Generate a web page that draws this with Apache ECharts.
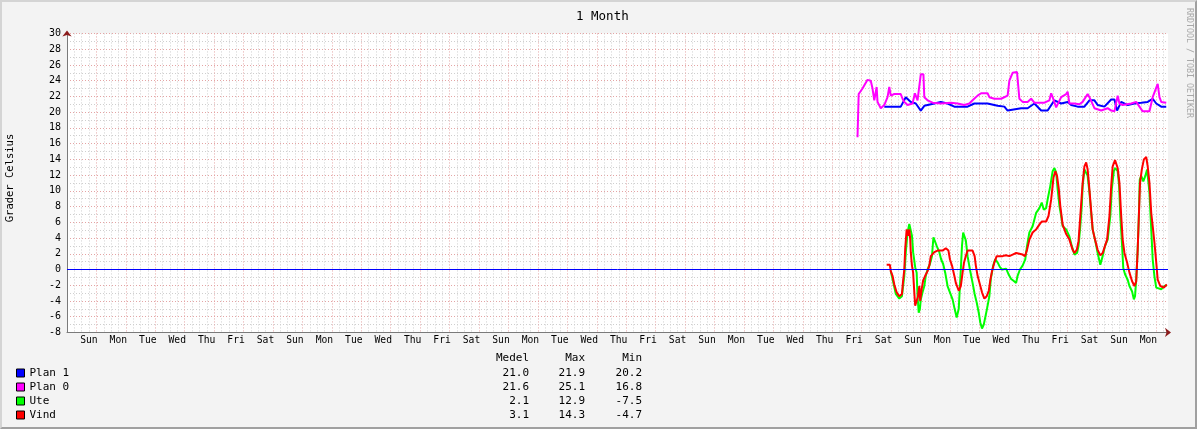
<!DOCTYPE html>
<html>
<head>
<meta charset="utf-8">
<title>1 Month</title>
<script src="https://cdn.jsdelivr.net/npm/echarts@6/dist/echarts.min.js"></script>
<style>
html, body { margin: 0; padding: 0; background: #f3f3f3; }
#wrap { position: relative; width: 1197px; height: 429px; }
#main { width: 1197px; height: 429px; }
#frame { position: absolute; left: 0; top: 0; width: 1197px; height: 429px; box-sizing: border-box;
         border: 2px solid; border-color: #d4d4d4 #a0a0a0 #a0a0a0 #d4d4d4; pointer-events: none; }
</style>
</head>
<body>
<div id="wrap"><div id="main"></div><div id="frame"></div></div>
<script>
var FONT = '"DejaVu Sans Mono", monospace';

// x in days from the left edge of the graph, y in degrees
var dayLabels = ['Sun','Mon','Tue','Wed','Thu','Fri','Sat',
                 'Sun','Mon','Tue','Wed','Thu','Fri','Sat',
                 'Sun','Mon','Tue','Wed','Thu','Fri','Sat',
                 'Sun','Mon','Tue','Wed','Thu','Fri','Sat',
                 'Sun','Mon','Tue','Wed','Thu','Fri','Sat',
                 'Sun','Mon'];
var xSpan = 37.41;
var yMin = -8, yMax = 30, yStep = 2;
var hrule = 0;

var names  = ['Plan 1', 'Plan 0', 'Ute', 'Vind'];
var colors = ['#0000ff', '#ff00ff', '#00ff00', '#ff0000'];
var medel  = ['21.0', '21.6', '2.1', '3.1'];
var maxv   = ['21.9', '25.1', '12.9', '14.3'];
var minv   = ['20.2', '16.8', '-7.5', '-4.7'];

var plan1 = [[27.77,20.7],[28.33,20.7],[28.50,21.9],[28.67,21.3],[28.84,21.1],[29.01,20.2],[29.13,20.8],
  [29.47,21.1],[29.69,21.3],[29.92,21.1],[30.15,20.7],[30.60,20.7],[30.83,21.1],[31.28,21.1],[31.62,20.8],
  [31.85,20.7],[31.96,20.2],[32.42,20.5],[32.64,20.5],[32.87,21.1],[33.10,20.2],[33.32,20.2],[33.55,21.5],
  [33.78,21.1],[34.00,21.3],[34.12,20.9],[34.34,20.7],[34.57,20.7],[34.74,21.5],[34.91,21.5],[35.02,20.9],
  [35.25,20.7],[35.48,21.6],[35.59,21.6],[35.68,20.2],[35.82,21.3],[36.04,20.9],[36.27,21.1],[36.50,21.2],
  [36.72,21.3],[36.89,21.7],[37.01,21.1],[37.18,20.7],[37.35,20.7]];

var plan0 = [[26.86,16.8],[26.90,22.3],[27.03,23.0],[27.20,24.1],[27.31,24.0],[27.37,23.0],[27.43,21.5],
  [27.51,23.2],[27.54,21.3],[27.65,20.5],[27.77,20.9],[27.88,21.9],[27.94,23.2],[27.99,22.1],[28.11,22.3],
  [28.33,22.3],[28.39,21.7],[28.45,21.3],[28.56,20.9],[28.73,21.1],[28.81,22.4],[28.90,21.5],[29.01,24.8],
  [29.10,24.8],[29.13,21.9],[29.24,21.5],[29.41,21.2],[29.69,21.1],[30.03,21.2],[30.26,21.1],[30.49,20.9],
  [30.66,21.1],[30.77,21.5],[30.94,22.1],[31.06,22.4],[31.28,22.4],[31.34,21.9],[31.51,21.7],[31.74,21.7],
  [31.96,22.1],[32.02,24.0],[32.13,25.0],[32.28,25.1],[32.36,21.7],[32.47,21.3],[32.64,21.3],[32.76,21.7],
  [32.87,21.2],[33.21,21.2],[33.38,21.5],[33.44,22.4],[33.49,21.9],[33.61,20.6],[33.78,21.9],[33.95,22.3],
  [34.00,22.6],[34.06,21.1],[34.23,21.1],[34.40,21.0],[34.51,21.3],[34.68,22.3],[34.74,21.9],[34.91,20.5],
  [35.14,20.2],[35.36,20.5],[35.48,20.2],[35.59,20.1],[35.70,22.1],[35.76,21.1],[35.87,20.9],[36.16,21.1],
  [36.33,21.3],[36.44,20.7],[36.55,20.1],[36.78,20.1],[36.89,21.9],[37.06,23.6],[37.12,21.9],[37.18,21.3],
  [37.35,21.2]];

var ute = [[27.99,-0.2],[28.05,-1.2],[28.16,-3.1],[28.28,-3.7],[28.37,-3.4],[28.45,-0.8],[28.50,2.1],
  [28.56,4.7],[28.62,5.8],[28.67,5.8],[28.71,4.3],[28.75,2.2],[28.82,0.3],[28.87,-0.4],[28.90,-3.4],
  [28.94,-5.5],[28.98,-5.0],[29.01,-3.8],[29.07,-2.9],[29.13,-2.1],[29.18,-0.8],[29.24,0.0],[29.32,0.7],
  [29.39,1.7],[29.44,4.1],[29.50,4.1],[29.55,3.0],[29.64,2.2],[29.70,1.3],[29.77,0.7],[29.84,-0.4],
  [29.92,-2.1],[30.00,-2.9],[30.09,-3.8],[30.16,-5.0],[30.23,-6.1],[30.30,-5.0],[30.34,-2.1],[30.37,0.0],
  [30.41,3.0],[30.45,4.7],[30.50,4.9],[30.54,3.7],[30.60,1.7],[30.68,0.0],[30.77,-1.7],[30.84,-3.1],
  [30.91,-4.2],[30.98,-5.5],[31.03,-6.7],[31.09,-7.5],[31.15,-7.0],[31.20,-6.1],[31.26,-5.0],[31.34,-3.4],
  [31.39,-1.2],[31.47,0.5],[31.54,1.3],[31.62,0.9],[31.70,0.3],[31.77,0.0],[31.91,0.1],[31.99,-0.6],
  [32.08,-1.2],[32.15,-1.4],[32.25,-1.7],[32.30,-0.8],[32.38,0.0],[32.47,0.5],[32.56,1.3],[32.62,3.0],
  [32.70,4.7],[32.81,5.5],[32.93,7.2],[33.04,7.8],[33.12,8.5],[33.19,7.6],[33.27,7.8],[33.32,8.9],
  [33.41,10.6],[33.49,12.5],[33.55,12.9],[33.61,12.3],[33.66,10.2],[33.72,8.1],[33.78,6.8],[33.83,5.5],
  [33.95,5.1],[34.06,4.2],[34.14,3.0],[34.23,1.9],[34.32,2.1],[34.37,3.0],[34.43,5.5],[34.48,8.1],
  [34.51,10.6],[34.57,12.7],[34.63,12.9],[34.68,11.9],[34.74,9.8],[34.80,7.2],[34.85,5.1],[34.93,3.8],
  [35.02,2.1],[35.11,0.6],[35.19,1.7],[35.27,3.0],[35.36,3.8],[35.45,6.8],[35.50,10.2],[35.57,12.5],
  [35.62,12.9],[35.70,12.5],[35.75,10.6],[35.79,6.8],[35.85,3.0],[35.89,0.2],[35.95,-0.6],[36.04,-1.3],
  [36.10,-2.1],[36.19,-2.8],[36.25,-3.8],[36.29,-3.4],[36.33,-1.3],[36.38,2.5],[36.42,6.8],[36.45,11.4],
  [36.50,11.9],[36.57,11.2],[36.64,11.9],[36.70,12.7],[36.78,9.8],[36.84,5.1],[36.89,1.3],[36.95,-0.9],
  [37.01,-2.3],[37.06,-2.5],[37.18,-2.5],[37.29,-2.1],[37.37,-2.0]];

var vind = [[27.85,0.6],[27.96,0.6],[27.99,-0.2],[28.05,-0.8],[28.11,-1.9],[28.19,-2.9],[28.28,-3.4],
  [28.37,-3.1],[28.41,-1.4],[28.45,0.0],[28.48,2.6],[28.53,5.1],[28.57,4.3],[28.62,5.1],[28.65,3.9],
  [28.67,2.2],[28.71,0.5],[28.75,-0.4],[28.79,-2.9],[28.82,-4.6],[28.87,-4.7],[28.91,-3.5],[28.96,-2.1],
  [28.99,-4.0],[29.04,-2.5],[29.09,-1.4],[29.16,-0.8],[29.24,-0.2],[29.30,0.5],[29.35,1.7],[29.47,2.2],
  [29.58,2.4],[29.64,2.6],[29.75,2.4],[29.86,2.7],[29.95,2.4],[30.00,1.3],[30.07,0.5],[30.15,-0.8],
  [30.20,-1.7],[30.30,-2.7],[30.37,-2.1],[30.43,-0.4],[30.48,0.9],[30.54,1.7],[30.60,2.4],[30.77,2.4],
  [30.84,1.7],[30.88,0.5],[30.94,-0.8],[31.02,-1.9],[31.09,-2.9],[31.17,-3.7],[31.25,-3.4],[31.32,-2.7],
  [31.37,-1.4],[31.43,-0.2],[31.51,0.9],[31.59,1.7],[31.79,1.7],[31.90,1.8],[32.02,1.7],[32.13,1.9],
  [32.25,2.1],[32.47,1.9],[32.55,1.7],[32.62,2.5],[32.70,3.8],[32.81,4.7],[32.93,5.1],[33.04,5.7],
  [33.12,6.1],[33.27,6.1],[33.35,6.8],[33.44,8.9],[33.52,11.7],[33.58,12.5],[33.64,11.9],[33.70,10.2],
  [33.75,8.1],[33.83,5.7],[33.95,4.5],[34.06,3.8],[34.17,2.5],[34.23,2.1],[34.31,2.5],[34.37,3.6],
  [34.43,6.8],[34.51,11.0],[34.57,13.1],[34.63,13.6],[34.68,12.7],[34.74,10.2],[34.80,7.4],[34.85,5.1],
  [34.93,3.8],[35.02,2.5],[35.11,1.8],[35.19,2.1],[35.27,3.0],[35.34,3.8],[35.42,6.8],[35.48,10.6],
  [35.53,13.1],[35.61,13.9],[35.70,12.9],[35.76,11.0],[35.82,6.8],[35.87,3.8],[35.93,2.1],[36.02,0.9],
  [36.10,-0.4],[36.19,-1.5],[36.27,-2.1],[36.33,-1.5],[36.38,2.5],[36.42,6.8],[36.46,11.0],[36.52,12.7],
  [36.59,14.0],[36.67,14.3],[36.72,13.1],[36.78,11.0],[36.84,7.2],[36.89,5.5],[36.95,3.4],[37.01,0.9],
  [37.06,-1.3],[37.15,-2.1],[37.27,-2.3],[37.37,-1.9]];

var seriesData = [plan1, plan0, ute, vind];

var gridRed = '#e4a4a4';
var gridGray = '#cfcfcf';
var axisGray = '#7a7a7a';
var arrowRed = '#8b1c1c';

var myChart = echarts.init(document.getElementById('main'), null, { renderer: 'canvas' });

var series = names.map(function (n, i) {
    return {
        name: n,
        type: 'line',
        data: seriesData[i],
        showSymbol: false,
        symbol: 'none',
        lineStyle: { width: 2, color: colors[i] },
        itemStyle: { color: colors[i] },
        emphasis: { disabled: true },
        z: 3 + i
    };
});
// blå nollinje (HRULE)
series.push({
    name: 'hrule',
    type: 'line',
    data: [[0, hrule], [xSpan, hrule]],
    showSymbol: false,
    symbol: 'none',
    silent: true,
    lineStyle: { width: 1, color: '#0000ff' },
    itemStyle: { color: '#0000ff' },
    emphasis: { disabled: true },
    z: 10
});

// statistik under grafen
var graphics = [];
var cols = [529, 585, 642];
var heads = ['Medel', 'Max', 'Min'];
var stats = [medel, maxv, minv];
heads.forEach(function (h, c) {
    graphics.push({ type: 'text', x: cols[c], y: 358,
        style: { text: h, align: 'right', verticalAlign: 'middle', fontSize: 11, fontFamily: FONT, fill: '#000' } });
    stats[c].forEach(function (v, r) {
        graphics.push({ type: 'text', x: cols[c], y: 373 + r * 14,
            style: { text: v, align: 'right', verticalAlign: 'middle', fontSize: 11, fontFamily: FONT, fill: '#000' } });
    });
});
graphics.push({ type: 'text', x: 10, y: 178, rotation: Math.PI / 2,
    style: { text: 'Grader Celsius', align: 'center', verticalAlign: 'middle', fontSize: 10.5, fontFamily: FONT, fill: '#000' } });
graphics.push({ type: 'text', x: 1189, y: 63, rotation: -Math.PI / 2,
    style: { text: 'RRDTOOL / TOBI OETIKER', align: 'center', verticalAlign: 'middle', fontSize: 8.3, fontFamily: FONT, fill: '#a8a8a8' } });

var option = {
    backgroundColor: '#f3f3f3',
    animation: false,
    title: {
        text: '1 Month',
        left: 571,
        top: 5,
        textStyle: { fontSize: 12.5, fontWeight: 'normal', fontFamily: FONT, color: '#000' }
    },
    legend: {
        data: names,
        orient: 'vertical',
        left: 16,
        top: 367,
        padding: 0,
        icon: 'rect',
        itemWidth: 8,
        itemHeight: 8,
        itemGap: 2,
        selectedMode: false,
        itemStyle: { borderColor: '#000', borderWidth: 1 },
        textStyle: { fontSize: 11, fontFamily: FONT, color: '#000', lineHeight: 12 }
    },
    grid: {
        left: 67, top: 33.45, width: 1101, height: 299,
        show: true, backgroundColor: '#ffffff', borderWidth: 0,
        outerBoundsMode: 'none'
    },
    xAxis: [
        {
            type: 'value',
            min: 0,
            max: xSpan,
            interval: 1,
            axisLine: { show: true, onZero: false, lineStyle: { color: axisGray, width: 1 } },
            axisTick: { show: false },
            axisLabel: {
                fontSize: 9.7, fontFamily: FONT, color: '#000', margin: 3,
                padding: [0, 15, 0, 0],
                showMinLabel: false, showMaxLabel: false,
                formatter: function (v) { return dayLabels[Math.round(v) - 1] || ''; }
            },
            splitLine: { show: true, showMinLine: false, showMaxLine: false,
                lineStyle: { color: gridRed, width: 1, type: [1, 2] } },
            minorTick: { show: false, splitNumber: 4 },
            minorSplitLine: { show: true, lineStyle: { color: gridGray, width: 1, type: [1, 2] } }
        },
        {
            type: 'value',
            position: 'bottom',
            min: 0,
            max: xSpan,
            axisLine: { show: true, onZero: false, symbol: ['none', 'arrow'], symbolSize: [7, 6], symbolOffset: [0, 3],
                lineStyle: { color: arrowRed, width: 0 } },
            axisTick: { show: false },
            axisLabel: { show: false },
            splitLine: { show: false }
        }
    ],
    yAxis: [
        {
            type: 'value',
            min: yMin,
            max: yMax,
            interval: yStep,
            axisLine: { show: true, onZero: false, lineStyle: { color: axisGray, width: 1 } },
            axisTick: { show: false },
            axisLabel: { fontSize: 10, fontFamily: FONT, color: '#000', margin: 6 },
            splitLine: { show: true, showMinLine: false,
                lineStyle: { color: gridRed, width: 1, type: [1, 2] } },
            minorTick: { show: false, splitNumber: 2 },
            minorSplitLine: { show: true, lineStyle: { color: gridGray, width: 1, type: [1, 2] } }
        },
        {
            type: 'value',
            position: 'left',
            min: yMin,
            max: yMax,
            axisLine: { show: true, onZero: false, symbol: ['none', 'arrow'], symbolSize: [7, 6], symbolOffset: [0, 3],
                lineStyle: { color: arrowRed, width: 0 } },
            axisTick: { show: false },
            axisLabel: { show: false },
            splitLine: { show: false }
        }
    ],
    graphic: graphics,
    series: series
};
myChart.setOption(option);
</script>
</body>
</html>
